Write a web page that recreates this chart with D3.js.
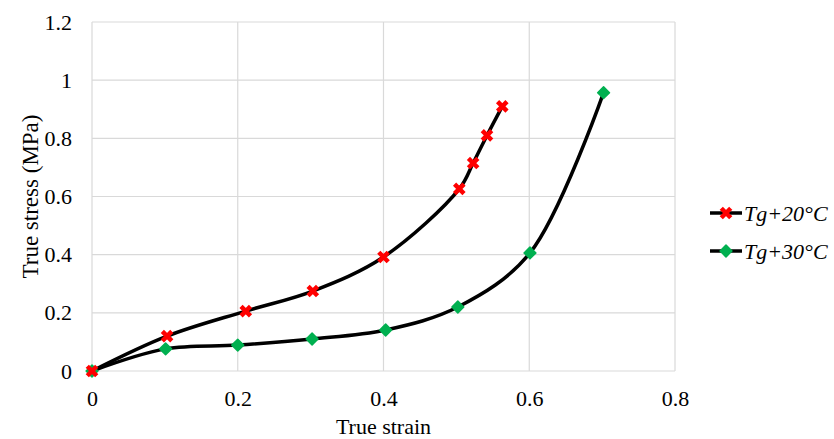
<!DOCTYPE html>
<html>
<head>
<meta charset="utf-8">
<script src="https://cdn.jsdelivr.net/npm/d3@7"></script>
<style>
  body { margin: 0; background: #fff; }
</style>
</head>
<body>
<script>
// data
var strain20 = [0, 0.103, 0.211, 0.303, 0.4, 0.504, 0.523, 0.542, 0.563];
var stress20 = [0, 0.12, 0.206, 0.275, 0.392, 0.626, 0.715, 0.81, 0.91];
var strain30 = [0, 0.101, 0.2, 0.302, 0.403, 0.502, 0.601, 0.702];
var stress30 = [0, 0.076, 0.089, 0.11, 0.141, 0.22, 0.406, 0.957];
var seriesNames = ["Tg+20°C", "Tg+30°C"];
var xTicks = [0, 0.2, 0.4, 0.6, 0.8];
var yTicks = [0, 0.2, 0.4, 0.6, 0.8, 1, 1.2];

var width = 834, height = 439;
var plot = {left: 92, right: 675, top: 22, bottom: 371};
var FONT = "'Liberation Serif', monospace";

var svg = d3.select("body").append("svg")
  .attr("width", width)
  .attr("height", height);

var xScale = d3.scaleLinear().domain([0, 0.8]).range([plot.left, plot.right]);
var yScale = d3.scaleLinear().domain([0, 1.2]).range([plot.bottom, plot.top]);

// gridlines
svg.append("g").selectAll("line")
  .data(xTicks)
  .enter().append("line")
  .attr("x1", function(d) { return xScale(d) })
  .attr("x2", function(d) { return xScale(d) })
  .attr("y1", plot.top)
  .attr("y2", plot.bottom)
  .attr("stroke", "#d9d9d9")
  .attr("stroke-width", 1.2);

svg.append("g").selectAll("line")
  .data(yTicks)
  .enter().append("line")
  .attr("x1", plot.left)
  .attr("x2", plot.right)
  .attr("y1", function(d) { return yScale(d) })
  .attr("y2", function(d) { return yScale(d) })
  .attr("stroke", "#d9d9d9")
  .attr("stroke-width", 1.2);

// axes (labels only)
var xAxis = d3.axisBottom(xScale).tickValues(xTicks).tickSize(0).tickPadding(19)
  .tickFormat(function(d) { return String(d) });
var gx = svg.append("g")
  .attr("transform", "translate(0," + plot.bottom + ")")
  .call(xAxis);
gx.select(".domain").remove();
gx.selectAll("text")
  .attr("font-family", FONT)
  .attr("font-size", 22)
  .attr("fill", "#000");

var yAxis = d3.axisLeft(yScale).tickValues(yTicks).tickSize(0).tickPadding(20)
  .tickFormat(function(d) { return String(d) });
var gy = svg.append("g")
  .attr("transform", "translate(" + plot.left + ",0)")
  .call(yAxis);
gy.select(".domain").remove();
gy.selectAll("text")
  .attr("font-family", FONT)
  .attr("font-size", 22)
  .attr("fill", "#000");

// axis titles
svg.append("text")
  .attr("x", (plot.left + plot.right) / 2)
  .attr("y", 434)
  .attr("text-anchor", "middle")
  .attr("font-family", FONT)
  .attr("font-size", 22)
  .text("True strain");

svg.append("text")
  .attr("transform", "translate(38," + ((plot.top + plot.bottom) / 2) + ") rotate(-90)")
  .attr("text-anchor", "middle")
  .attr("font-family", FONT)
  .attr("font-size", 23)
  .text("True stress (MPa)");

var line = d3.line()
  .x(function(d) { return xScale(d[0]) })
  .y(function(d) { return yScale(d[1]) })
  .curve(d3.curveCatmullRom.alpha(0.5));

var pts20 = d3.zip(strain20, stress20);
var pts30 = d3.zip(strain30, stress30);

svg.append("path").datum(pts30)
  .attr("d", line)
  .attr("fill", "none")
  .attr("stroke", "#000")
  .attr("stroke-width", 3.5);

svg.append("path").datum(pts20)
  .attr("d", line)
  .attr("fill", "none")
  .attr("stroke", "#000")
  .attr("stroke-width", 3.5);

var crossSym = d3.symbol().type(d3.symbolX).size(60);
var diamondSym = d3.symbol().type(d3.symbolSquare).size(70);

function drawCross(sel) {
  sel.append("path")
    .attr("d", crossSym)
    .attr("stroke", "#ff0000")
    .attr("stroke-width", 4.5)
    .attr("fill", "none");
}
function drawDiamond(sel) {
  sel.append("path")
    .attr("d", diamondSym)
    .attr("transform", "rotate(45)")
    .attr("fill", "#00b050")
    .attr("stroke", "#00b050")
    .attr("stroke-width", 1.5)
    .attr("stroke-linejoin", "round");
}

svg.append("g").selectAll("g")
  .data(pts30)
  .enter().append("g")
  .attr("transform", function(d) { return "translate(" + xScale(d[0]) + "," + yScale(d[1]) + ")" })
  .call(drawDiamond);

svg.append("g").selectAll("g")
  .data(pts20)
  .enter().append("g")
  .attr("transform", function(d) { return "translate(" + xScale(d[0]) + "," + yScale(d[1]) + ")" })
  .call(drawCross);

// legend
var legend = svg.append("g").selectAll("g")
  .data(seriesNames)
  .enter().append("g")
  .attr("transform", function(d, i) { return "translate(710," + (213 + i * 38) + ")" });

legend.append("line")
  .attr("x1", 0).attr("x2", 32)
  .attr("stroke", "#000").attr("stroke-width", 3.5);

legend.filter(function(d, i) { return i === 0 })
  .append("g").attr("transform", "translate(16,0)").call(drawCross);
legend.filter(function(d, i) { return i === 1 })
  .append("g").attr("transform", "translate(16,0)").call(drawDiamond);

legend.append("text")
  .attr("x", 34)
  .attr("y", 8)
  .attr("font-family", FONT)
  .attr("font-size", 22)
  .attr("font-style", "italic")
  .text(function(d) { return d });
</script>
</body>
</html>
